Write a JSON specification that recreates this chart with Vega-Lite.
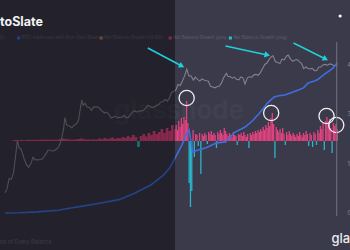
{
  "$schema": "https://vega.github.io/schema/vega-lite/v6.json",
  "width": 350,
  "height": 250,
  "padding": 0,
  "autosize": {"type": "none"},
  "background": "#3b3a4a",
  "config": {"view": {"stroke": null}, "font": "Inter", "axis": {"grid": false, "domain": false, "ticks": false}},
  "datasets": {
    "barsL": [
      {"t":2011.3,"v":8},{"t":2011.4,"v":10},{"t":2011.5,"v":8},{"t":2011.6,"v":10},{"t":2011.7,"v":8},{"t":2011.8,"v":10},{"t":2011.9,"v":12},
      {"t":2012.0,"v":10},{"t":2012.1,"v":12},{"t":2012.2,"v":10},{"t":2012.3,"v":12},{"t":2012.4,"v":14},{"t":2012.5,"v":12},{"t":2012.6,"v":14},{"t":2012.7,"v":12},{"t":2012.8,"v":14},{"t":2012.9,"v":12},
      {"t":2013.0,"v":14},{"t":2013.1,"v":18},{"t":2013.2,"v":25},{"t":2013.3,"v":20},{"t":2013.4,"v":16},{"t":2013.5,"v":14},{"t":2013.6,"v":14},{"t":2013.7,"v":16},{"t":2013.8,"v":20},{"t":2013.9,"v":25},
      {"t":2014.0,"v":18},{"t":2014.1,"v":15},{"t":2014.2,"v":14},{"t":2014.3,"v":14},{"t":2014.4,"v":16},{"t":2014.5,"v":15},{"t":2014.6,"v":25},{"t":2014.7,"v":18},{"t":2014.8,"v":30},{"t":2014.9,"v":20},
      {"t":2015.0,"v":25},{"t":2015.1,"v":35},{"t":2015.2,"v":20},{"t":2015.3,"v":30},{"t":2015.4,"v":25},{"t":2015.5,"v":40},{"t":2015.6,"v":30},{"t":2015.7,"v":50},{"t":2015.8,"v":35},{"t":2015.9,"v":60},
      {"t":2016.0,"v":40},{"t":2016.1,"v":-60},{"t":2016.2,"v":50},{"t":2016.3,"v":70},{"t":2016.4,"v":45},{"t":2016.5,"v":80},{"t":2016.6,"v":60},{"t":2016.7,"v":100},{"t":2016.8,"v":70},{"t":2016.9,"v":90},
      {"t":2017.0,"v":120},{"t":2017.1,"v":80},{"t":2017.2,"v":130},{"t":2017.3,"v":100},{"t":2017.4,"v":160}
    ],
    "barsR": [
      {"t":2017.50,"v":120},{"t":2017.55,"v":160},{"t":2017.60,"v":110},{"t":2017.65,"v":200},{"t":2017.70,"v":140},{"t":2017.75,"v":230},{"t":2017.80,"v":170},{"t":2017.85,"v":240},{"t":2017.90,"v":210},{"t":2017.95,"v":400},
      {"t":2018.00,"v":180},{"t":2018.05,"v":-420},{"t":2018.10,"v":-660},{"t":2018.15,"v":-500},{"t":2018.20,"v":110},{"t":2018.25,"v":-160},{"t":2018.30,"v":70},{"t":2018.35,"v":60},{"t":2018.40,"v":-50},{"t":2018.45,"v":80},
      {"t":2018.50,"v":-330},{"t":2018.55,"v":70},{"t":2018.60,"v":50},{"t":2018.65,"v":80},{"t":2018.70,"v":60},{"t":2018.75,"v":-30},{"t":2018.80,"v":90},{"t":2018.85,"v":70},{"t":2018.90,"v":100},{"t":2018.95,"v":60},
      {"t":2019.00,"v":80},{"t":2019.05,"v":60},{"t":2019.10,"v":-70},{"t":2019.15,"v":90},{"t":2019.20,"v":70},{"t":2019.25,"v":110},{"t":2019.30,"v":80},{"t":2019.35,"v":60},{"t":2019.40,"v":130},{"t":2019.45,"v":100},
      {"t":2019.50,"v":70},{"t":2019.55,"v":50},{"t":2019.60,"v":80},{"t":2019.65,"v":60},{"t":2019.70,"v":40},{"t":2019.75,"v":90},{"t":2019.80,"v":60},{"t":2019.85,"v":50},{"t":2019.90,"v":-40},{"t":2019.95,"v":70},
      {"t":2020.00,"v":60},{"t":2020.05,"v":80},{"t":2020.10,"v":50},{"t":2020.15,"v":90},{"t":2020.20,"v":60},{"t":2020.25,"v":40},{"t":2020.30,"v":70},{"t":2020.35,"v":-70},{"t":2020.40,"v":80},{"t":2020.45,"v":60},
      {"t":2020.50,"v":90},{"t":2020.55,"v":70},{"t":2020.60,"v":100},{"t":2020.65,"v":80},{"t":2020.70,"v":110},{"t":2020.75,"v":90},{"t":2020.80,"v":120},{"t":2020.85,"v":100},{"t":2020.90,"v":140},{"t":2020.95,"v":110},
      {"t":2021.00,"v":160},{"t":2021.05,"v":130},{"t":2021.10,"v":190},{"t":2021.15,"v":150},{"t":2021.20,"v":230},{"t":2021.25,"v":280},{"t":2021.30,"v":170},{"t":2021.35,"v":-170},{"t":2021.40,"v":140},{"t":2021.45,"v":110},
      {"t":2021.50,"v":90},{"t":2021.55,"v":120},{"t":2021.60,"v":80},{"t":2021.65,"v":130},{"t":2021.70,"v":70},{"t":2021.75,"v":-40},{"t":2021.80,"v":90},{"t":2021.85,"v":60},{"t":2021.90,"v":100},{"t":2021.95,"v":70},
      {"t":2022.00,"v":50},{"t":2022.05,"v":80},{"t":2022.10,"v":60},{"t":2022.15,"v":40},{"t":2022.20,"v":70},{"t":2022.25,"v":50},{"t":2022.30,"v":90},{"t":2022.35,"v":60},{"t":2022.40,"v":40},{"t":2022.45,"v":80},
      {"t":2022.50,"v":60},{"t":2022.55,"v":100},{"t":2022.60,"v":70},{"t":2022.65,"v":-50},{"t":2022.70,"v":80},{"t":2022.75,"v":60},{"t":2022.80,"v":-60},{"t":2022.85,"v":90},{"t":2022.90,"v":70},{"t":2022.95,"v":-40},
      {"t":2023.00,"v":110},{"t":2023.05,"v":80},{"t":2023.10,"v":150},{"t":2023.15,"v":120},{"t":2023.20,"v":180},{"t":2023.25,"v":-90},{"t":2023.30,"v":200},{"t":2023.35,"v":240},{"t":2023.40,"v":160},{"t":2023.45,"v":220},
      {"t":2023.50,"v":130},{"t":2023.55,"v":-120},{"t":2023.60,"v":180},{"t":2023.65,"v":150},{"t":2023.70,"v":170},{"t":2023.75,"v":120}
    ],
    "price": [
      {"t":2010.96,"p":0.25},{"t":2011.04,"p":0.35},{"t":2011.12,"p":0.9},{"t":2011.21,"p":0.85},{"t":2011.29,"p":1.5},{"t":2011.37,"p":7},{"t":2011.44,"p":29},{"t":2011.5,"p":15},{"t":2011.58,"p":13},{"t":2011.62,"p":10},{"t":2011.71,"p":5},{"t":2011.79,"p":3.2},{"t":2011.87,"p":2.5},{"t":2011.96,"p":3.5},
      {"t":2012.04,"p":6.2},{"t":2012.12,"p":5},{"t":2012.21,"p":4.9},{"t":2012.29,"p":5},{"t":2012.37,"p":5.1},{"t":2012.46,"p":6.5},{"t":2012.54,"p":8.5},{"t":2012.62,"p":12},{"t":2012.71,"p":11.5},{"t":2012.79,"p":11.2},{"t":2012.87,"p":11.5},{"t":2012.96,"p":13.5},
      {"t":2013.04,"p":17},{"t":2013.12,"p":28},{"t":2013.21,"p":75},{"t":2013.27,"p":230},{"t":2013.33,"p":120},{"t":2013.37,"p":115},{"t":2013.46,"p":105},{"t":2013.54,"p":90},{"t":2013.62,"p":115},{"t":2013.71,"p":130},{"t":2013.79,"p":180},{"t":2013.87,"p":600},{"t":2013.92,"p":1150},{"t":2013.97,"p":700},
      {"t":2014.04,"p":850},{"t":2014.12,"p":600},{"t":2014.21,"p":580},{"t":2014.29,"p":450},{"t":2014.37,"p":600},{"t":2014.46,"p":620},{"t":2014.54,"p":600},{"t":2014.62,"p":500},{"t":2014.71,"p":410},{"t":2014.79,"p":350},{"t":2014.87,"p":380},{"t":2014.96,"p":320},
      {"t":2015.04,"p":220},{"t":2015.12,"p":240},{"t":2015.21,"p":260},{"t":2015.29,"p":230},{"t":2015.37,"p":235},{"t":2015.46,"p":245},{"t":2015.54,"p":285},{"t":2015.62,"p":230},{"t":2015.71,"p":235},{"t":2015.79,"p":300},{"t":2015.87,"p":380},{"t":2015.96,"p":430},
      {"t":2016.04,"p":380},{"t":2016.12,"p":430},{"t":2016.21,"p":415},{"t":2016.29,"p":450},{"t":2016.37,"p":530},{"t":2016.46,"p":700},{"t":2016.54,"p":650},{"t":2016.62,"p":575},{"t":2016.71,"p":610},{"t":2016.79,"p":700},{"t":2016.87,"p":740},{"t":2016.96,"p":960},
      {"t":2017.04,"p":970},{"t":2017.12,"p":1190},{"t":2017.21,"p":1050},{"t":2017.29,"p":1350},{"t":2017.37,"p":2300},{"t":2017.46,"p":2450},{"t":2017.54,"p":2850},{"t":2017.62,"p":4700},{"t":2017.71,"p":4300},{"t":2017.79,"p":6400},{"t":2017.87,"p":10000},{"t":2017.96,"p":19000},
      {"t":2018.0,"p":13500},{"t":2018.04,"p":10200},{"t":2018.12,"p":10300},{"t":2018.21,"p":7000},{"t":2018.29,"p":9200},{"t":2018.37,"p":7500},{"t":2018.46,"p":6400},{"t":2018.54,"p":7700},{"t":2018.62,"p":7000},{"t":2018.71,"p":6600},{"t":2018.79,"p":6300},{"t":2018.87,"p":4000},{"t":2018.96,"p":3700},
      {"t":2019.04,"p":3450},{"t":2019.12,"p":3800},{"t":2019.21,"p":4100},{"t":2019.29,"p":5300},{"t":2019.37,"p":8500},{"t":2019.48,"p":12900},{"t":2019.54,"p":10000},{"t":2019.62,"p":9600},{"t":2019.71,"p":8300},{"t":2019.79,"p":9200},{"t":2019.87,"p":7500},{"t":2019.96,"p":7200},
      {"t":2020.04,"p":9350},{"t":2020.12,"p":8600},{"t":2020.2,"p":4900},{"t":2020.29,"p":8600},{"t":2020.37,"p":9450},{"t":2020.46,"p":9100},{"t":2020.54,"p":11300},{"t":2020.62,"p":11700},{"t":2020.71,"p":10800},{"t":2020.79,"p":13800},{"t":2020.87,"p":19700},{"t":2020.96,"p":29000},
      {"t":2021.04,"p":33000},{"t":2021.12,"p":45000},{"t":2021.21,"p":58800},{"t":2021.28,"p":63500},{"t":2021.37,"p":37000},{"t":2021.46,"p":35000},{"t":2021.54,"p":31000},{"t":2021.62,"p":47100},{"t":2021.71,"p":43800},{"t":2021.79,"p":61300},{"t":2021.86,"p":68000},{"t":2021.96,"p":46300},
      {"t":2022.04,"p":38500},{"t":2022.12,"p":43200},{"t":2022.21,"p":45500},{"t":2022.29,"p":37700},{"t":2022.37,"p":31800},{"t":2022.46,"p":19900},{"t":2022.54,"p":23300},{"t":2022.62,"p":20000},{"t":2022.71,"p":19400},{"t":2022.79,"p":20500},{"t":2022.87,"p":16500},{"t":2022.96,"p":16800},
      {"t":2023.04,"p":23100},{"t":2023.12,"p":23100},{"t":2023.21,"p":28500},{"t":2023.29,"p":29200},{"t":2023.37,"p":27200},{"t":2023.46,"p":30500},{"t":2023.54,"p":29200},{"t":2023.62,"p":26000},{"t":2023.71,"p":27000},{"t":2023.75,"p":27500}
    ],
    "addr": [
      {"t":2010.96,"m":0.02},{"t":2011.5,"m":0.1},{"t":2012.2,"m":0.35},{"t":2013.0,"m":0.9},{"t":2013.5,"m":1.6},{"t":2014.0,"m":2.3},{"t":2014.7,"m":3.3},{"t":2015.35,"m":4.3},{"t":2015.93,"m":6.3},{"t":2016.57,"m":9.0},{"t":2017.06,"m":12.2},{"t":2017.3,"m":14.5},{"t":2017.5,"m":17.6},{"t":2017.77,"m":21.9},{"t":2017.95,"m":25.5},{"t":2018.05,"m":26.7},{"t":2018.1,"m":24.0},{"t":2018.18,"m":19.7},{"t":2018.4,"m":20.3},{"t":2018.7,"m":21.0},{"t":2019.11,"m":22.6},{"t":2019.45,"m":22.9},{"t":2019.8,"m":26.0},{"t":2020.2,"m":27.7},{"t":2020.5,"m":29.8},{"t":2020.76,"m":32.2},{"t":2021.06,"m":35.4},{"t":2021.32,"m":37.4},{"t":2021.5,"m":37.8},{"t":2021.73,"m":38.0},{"t":2022.0,"m":38.8},{"t":2022.25,"m":39.6},{"t":2022.45,"m":40.3},{"t":2022.63,"m":41.9},{"t":2022.9,"m":42.6},{"t":2023.0,"m":43.0},{"t":2023.11,"m":43.8},{"t":2023.37,"m":45.4},{"t":2023.55,"m":46.4},{"t":2023.75,"m":48.3}
    ]
  },
  "layer": [
    {
      "layer": [
        {
          "data": {"name": "barsL"},
          "mark": {"type": "bar", "width": 2.7},
          "encoding": {
            "x": {"field": "t", "type": "quantitative", "scale": {"domain": [2010.9626, 2024.0467], "nice": false, "zero": false},
              "axis": {"orient": "bottom", "offset": -32, "values": [2011,2012,2013,2014,2015,2016,2017,2018,2019,2020,2021,2022,2023], "format": "d", "labelFontSize": 5.5, "labelColor": "#7d7c8a", "labelPadding": 2, "labelFlush": false, "labelOverlap": false, "title": null}},
            "y": {"field": "v", "type": "quantitative", "scale": {"domain": [-1090, 1410], "nice": false, "zero": false}, "axis": null},
            "y2": {"datum": 0},
            "color": {"condition": {"test": "datum.v < 0", "value": "#27b6cc"}, "value": "#e2437f"}
          }
        },
        {
          "data": {"name": "barsR"},
          "mark": {"type": "bar", "width": 1.3},
          "encoding": {
            "x": {"field": "t", "type": "quantitative", "axis": null},
            "y": {"field": "v", "type": "quantitative", "scale": {"domain": [-1090, 1410], "nice": false, "zero": false}, "axis": null},
            "y2": {"datum": 0},
            "color": {"condition": {"test": "datum.v < 0", "value": "#27b6cc"}, "value": "#e2437f"}
          }
        }
      ]
    },
    {
      "data": {"name": "price"},
      "mark": {"type": "line", "color": "#83818f", "strokeWidth": 1.1},
      "encoding": {
        "x": {"field": "t", "type": "quantitative", "axis": null},
        "y": {"field": "p", "type": "quantitative", "scale": {"type": "log", "domain": [0.00135, 10230000], "nice": false, "zero": false}, "axis": null}
      }
    },
    {
      "data": {"name": "addr"},
      "mark": {"type": "line", "color": "#3d6fe0", "strokeWidth": 1.6},
      "encoding": {
        "x": {"field": "t", "type": "quantitative", "axis": null},
        "y": {"field": "m", "type": "quantitative", "scale": {"domain": [-11.92, 68.62], "nice": false, "zero": false},
          "axis": {"orient": "right", "offset": -5, "values": [0, 16, 32, 48], "labelExpr": "datum.value == 0 ? '0' : datum.value + 'M'", "labelFontSize": 5.5, "labelColor": "#8a8996", "labelPadding": 2, "title": null}}
      }
    },
    {
      "layer": [
        {
          "data": {"values": [
            {"t": 2009.467, "series": "price", "label": "BTC: Price [USD]"},
            {"t": 2011.486, "series": "addr", "label": "BTC: Addresses with Non-Zero Balance"},
            {"t": 2014.664, "series": "ma", "label": "Net Balance Growth (7d MA)"},
            {"t": 2017.318, "series": "pos", "label": "Net Balance Growth (pos)"},
            {"t": 2019.636, "series": "neg", "label": "Net Balance Growth (neg)"}
          ]},
          "layer": [
            {
              "mark": {"type": "point", "shape": "square", "filled": true, "size": 9, "opacity": 1},
              "encoding": {
                "x": {"field": "t", "type": "quantitative", "axis": null},
                "y": {"datum": 1030, "type": "quantitative", "scale": {"domain": [-1090, 1410], "nice": false, "zero": false}, "axis": null},
                "color": {"field": "series", "type": "nominal", "scale": {"domain": ["price", "addr", "ma", "pos", "neg"], "range": ["#8a8896", "#3d6fe0", "#e0843a", "#e2437f", "#27c0d0"]}, "legend": null}
              }
            },
            {
              "mark": {"type": "text", "align": "left", "baseline": "middle", "dx": 3, "fontSize": 4.4, "color": "#605f6d"},
              "encoding": {
                "x": {"field": "t", "type": "quantitative", "axis": null},
                "y": {"datum": 1030, "type": "quantitative", "axis": null},
                "text": {"field": "label"}
              }
            }
          ]
        },
        {
          "data": {"values": [{"t": 2012.757, "v": -1010, "label": "Number of Addresses of Every Balance"}]},
          "mark": {"type": "text", "align": "right", "baseline": "middle", "fontSize": 5.5, "color": "#656373"},
          "encoding": {
            "x": {"field": "t", "type": "quantitative", "axis": null},
            "y": {"field": "v", "type": "quantitative", "axis": null},
            "text": {"field": "label"}
          }
        },
        {
          "data": {"values": [{"t": 2017.655, "v": 300, "label": "glassnode"}]},
          "mark": {"type": "text", "align": "center", "baseline": "middle", "fontSize": 26, "fontWeight": 600, "color": "#ffffff", "opacity": 0.03},
          "encoding": {
            "x": {"field": "t", "type": "quantitative", "axis": null},
            "y": {"field": "v", "type": "quantitative", "axis": null},
            "text": {"field": "label"}
          }
        },
        {
          "data": {"values": [{"t": 2009.0, "t2": 2017.505}]},
          "mark": {"type": "rect", "color": "#000000", "opacity": 0.4},
          "encoding": {
            "x": {"field": "t", "type": "quantitative", "axis": null},
            "x2": {"field": "t2"}
          }
        },
        {
          "data": {"values": [{"t": 2012.4205, "v": 1190, "label": "CryptoSlate"}]},
          "mark": {"type": "text", "align": "right", "baseline": "middle", "fontSize": 12.5, "fontWeight": "bold", "color": "#f2f2f4"},
          "encoding": {
            "x": {"field": "t", "type": "quantitative", "axis": null},
            "y": {"field": "v", "type": "quantitative", "axis": null},
            "text": {"field": "label"}
          }
        },
        {
          "data": {"values": [
            {"t": 2017.953, "v": 430}, {"t": 2021.206, "v": 280}, {"t": 2023.336, "v": 250}, {"t": 2023.71, "v": 160}
          ]},
          "mark": {"type": "point", "shape": "circle", "filled": false, "size": 230, "stroke": "#f0f0f2", "strokeWidth": 1.3, "opacity": 1},
          "encoding": {
            "x": {"field": "t", "type": "quantitative", "axis": null},
            "y": {"field": "v", "type": "quantitative", "scale": {"domain": [-1090, 1410], "nice": false, "zero": false}, "axis": null}
          }
        },
        {
          "data": {"name": "arrows", "values": [
            {"id": 1, "t": 2016.458, "v": 930, "t2": 2017.766, "v2": 750},
            {"id": 2, "t": 2019.449, "v": 950, "t2": 2021.056, "v2": 860},
            {"id": 3, "t": 2022.065, "v": 980, "t2": 2023.299, "v2": 820}
          ]},
          "layer": [
            {
              "mark": {"type": "rule", "color": "#1fd0d8", "strokeWidth": 1.5},
              "encoding": {
                "x": {"field": "t", "type": "quantitative", "axis": null},
                "y": {"field": "v", "type": "quantitative", "axis": null},
                "x2": {"field": "t2"},
                "y2": {"field": "v2"}
              }
            },
            {
              "transform": [{"filter": "datum.id != 2"}],
              "mark": {"type": "point", "shape": "triangle-right", "filled": true, "size": 40, "angle": 27, "color": "#1fd0d8", "opacity": 1},
              "encoding": {
                "x": {"field": "t2", "type": "quantitative", "axis": null},
                "y": {"field": "v2", "type": "quantitative", "axis": null}
              }
            },
            {
              "transform": [{"filter": "datum.id == 2"}],
              "mark": {"type": "point", "shape": "triangle-right", "filled": true, "size": 40, "angle": 12, "color": "#1fd0d8", "opacity": 1},
              "encoding": {
                "x": {"field": "t2", "type": "quantitative", "axis": null},
                "y": {"field": "v2", "type": "quantitative", "axis": null}
              }
            }
          ]
        },
        {
          "data": {"values": [{"t": 2023.729, "v": 990, "v2": -750}]},
          "mark": {"type": "rule", "color": "#75747f", "strokeWidth": 1},
          "encoding": {
            "x": {"field": "t", "type": "quantitative", "axis": null},
            "y": {"field": "v", "type": "quantitative", "axis": null},
            "y2": {"field": "v2"}
          }
        },
        {
          "data": {"values": [{"t": 2023.86, "v": 1250}]},
          "mark": {"type": "point", "shape": "circle", "filled": true, "size": 10, "color": "#ffffff", "opacity": 1},
          "encoding": {
            "x": {"field": "t", "type": "quantitative", "axis": null},
            "y": {"field": "v", "type": "quantitative", "axis": null}
          }
        },
        {
          "data": {"values": [{"t": 2023.523, "v": -980, "label": "glassnode"}]},
          "mark": {"type": "text", "align": "left", "baseline": "middle", "fontSize": 13, "fontWeight": 500, "color": "#ececf0"},
          "encoding": {
            "x": {"field": "t", "type": "quantitative", "axis": null},
            "y": {"field": "v", "type": "quantitative", "axis": null},
            "text": {"field": "label"}
          }
        }
      ]
    }
  ],
  "resolve": {"scale": {"y": "independent"}}
}
